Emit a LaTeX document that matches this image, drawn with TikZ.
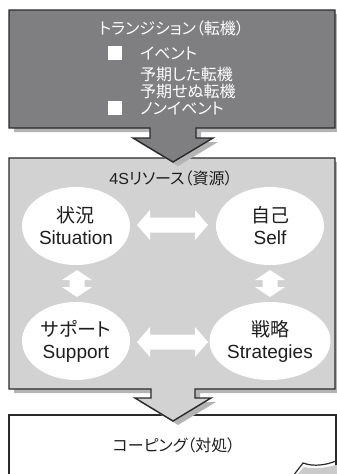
\documentclass[tikz,border=0pt]{standalone}
\usepackage{fontspec}
\setmainfont[RawFeature=+palt]{Noto Sans CJK JP}
\newfontfamily\latf{Liberation Sans}
\usetikzlibrary{shapes.geometric}
\definecolor{topfill}{HTML}{7F7F81}
\definecolor{midfill}{HTML}{D2D2D2}
\definecolor{shadowc}{HTML}{B4B4B4}
\definecolor{edgec}{HTML}{2A2A2A}
\definecolor{textc}{HTML}{1E1E1E}
\newcommand{\hdarrow}[1]{\fill[white,shift={#1}] (-35.5,0) -- (-22.5,-15) -- (-22.5,-7.5) -- (22.5,-7.5) -- (22.5,-15) -- (35.5,0) -- (22.5,15) -- (22.5,7.5) -- (-22.5,7.5) -- (-22.5,15) -- cycle;}
\newcommand{\vdarrow}[1]{\fill[white,shift={#1}] (0,-13.5) -- (15,-3.5) -- (7.5,-3.5) -- (7.5,3.5) -- (15,3.5) -- (0,13.5) -- (-15,3.5) -- (-7.5,3.5) -- (-7.5,-3.5) -- (-15,-3.5) -- cycle;}
\tikzset{
  boxedge/.style={draw=edgec,line width=1.4pt,line join=miter},
  ell/.style={ellipse,fill=white,minimum width=108pt,minimum height=78pt,inner sep=0pt,align=center,text=textc,font=\fontsize{19pt}{22pt}\selectfont},
  toptext/.style={text=white,font=\fontsize{16pt}{18pt}\selectfont,inner sep=0pt},
  bullet/.style={fill=white,minimum size=14pt,inner sep=0pt},
}
\begin{document}
\begin{tikzpicture}[x=1pt,y=-1pt]
\useasboundingbox (0,0) rectangle (337,474);
% bottom box (folded corner)
\path[fill=white,boxedge] (9,480) -- (9,415) -- (336,415) -- (336,461) -- (336,480);
\fill[shadowc!70] (296,476) -- (304,467) .. controls (316,470) and (326,467) .. (337,465) -- (337,476) -- cycle;
\draw[edgec,line width=1.2pt] (293,476) -- (303,463) .. controls (314,467) and (326,465) .. (336,461);
\node[text=textc,font=\fontsize{16pt}{18pt}\selectfont,inner sep=0pt] (coping) at (174,445) {コーピング（対処）};
% middle callout
\fill[shadowc,shift={(5,4)}] (9,158) -- (335,158) -- (335,389) -- (195,389) -- (195,398) -- (211,398) -- (173,421) -- (135,398) -- (151,398) -- (151,389) -- (9,389) -- cycle;
\path[fill=midfill,boxedge] (9,158) -- (335,158) -- (335,389) -- (195,389) -- (195,398) -- (211,398) -- (173,421) -- (135,398) -- (151,398) -- (151,389) -- (9,389) -- cycle;
\node[text=textc,font=\fontsize{16pt}{18pt}\selectfont,inner sep=0pt] (res) at (171,178) {{\latf 4S}リソース（資源）};
\node[ell] (sit) at (76,226) {状況\\{\latf Situation}};
\node[ell] (self) at (270,226) {自己\\{\latf Self}};
\node[ell] (sup) at (76,341) {サポート\\{\latf Support}};
\node[ell] (str) at (270,341) {戦略\\{\latf Strategies}};
\hdarrow{(172.5,225)}
\hdarrow{(172.5,342)}
\vdarrow{(77,283.5)}
\vdarrow{(270,283.5)}
% top callout
\fill[shadowc,shift={(5,4)}] (9,10) -- (335,10) -- (335,128) -- (196,128) -- (196,138) -- (213,138) -- (173,162) -- (133,138) -- (150,138) -- (150,128) -- (9,128) -- cycle;
\path[fill=topfill,boxedge] (9,10) -- (335,10) -- (335,128) -- (196,128) -- (196,138) -- (213,138) -- (173,162) -- (133,138) -- (150,138) -- (150,128) -- (9,128) -- cycle;
\node[toptext] (title) at (171.5,28) {トランジション（転機）};
\node[bullet] (b1) at (115,53) {};
\node[bullet] (b2) at (115,108) {};
\node[toptext,anchor=west] (l1) at (140,53) {イベント};
\node[toptext,anchor=west] (l2) at (140,74) {予期した転機};
\node[toptext,anchor=west] (l3) at (140,91) {予期せぬ転機};
\node[toptext,anchor=west] (l4) at (140,108) {ノンイベント};
\end{tikzpicture}
\end{document}
